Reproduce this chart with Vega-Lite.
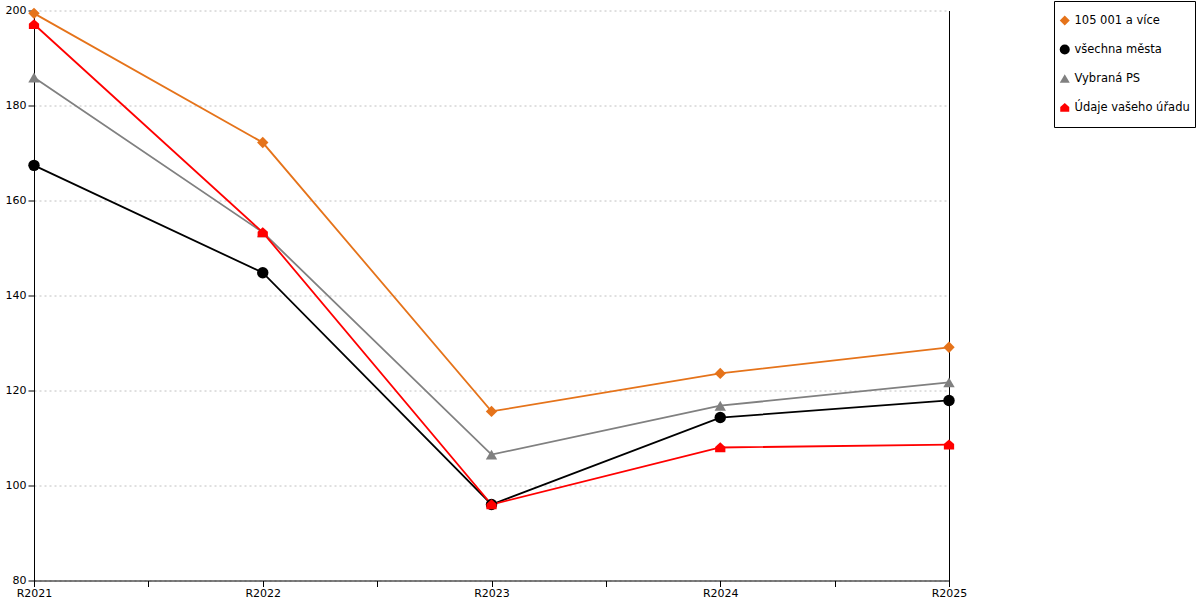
{
  "$schema": "https://vega.github.io/schema/vega-lite/v6.json",
  "width": 915,
  "height": 570,
  "padding": {"left": 5, "top": 0.5, "right": 0, "bottom": 0},
  "background": "white",
  "config": {
    "font": "DejaVu Sans",
    "view": {"stroke": null},
    "axis": {
      "labelFont": "DejaVu Sans",
      "labelFontSize": 11,
      "labelColor": "black",
      "domainColor": "black",
      "tickColor": "black",
      "title": null
    },
    "legend": {
      "title": null,
      "strokeColor": "black",
      "padding": 5,
      "rowPadding": 0,
      "clipHeight": 29,
      "labelFontSize": 11.5,
      "labelFont": "DejaVu Sans",
      "labelColor": "black",
      "symbolSize": 100,
      "symbolOpacity": 1,
      "symbolStrokeWidth": 0,
      "labelOffset": 4
    }
  },
  "data": {
    "values": [
      {"rok": 2021, "skupina": "105 001 a více", "hodnota": 199.4},
      {"rok": 2022, "skupina": "105 001 a více", "hodnota": 172.2},
      {"rok": 2023, "skupina": "105 001 a více", "hodnota": 115.6},
      {"rok": 2024, "skupina": "105 001 a více", "hodnota": 123.6},
      {"rok": 2025, "skupina": "105 001 a více", "hodnota": 129.1},
      {"rok": 2021, "skupina": "všechna města", "hodnota": 167.4},
      {"rok": 2022, "skupina": "všechna města", "hodnota": 144.8},
      {"rok": 2023, "skupina": "všechna města", "hodnota": 96.0},
      {"rok": 2024, "skupina": "všechna města", "hodnota": 114.3},
      {"rok": 2025, "skupina": "všechna města", "hodnota": 117.9},
      {"rok": 2021, "skupina": "Vybraná PS", "hodnota": 185.9},
      {"rok": 2022, "skupina": "Vybraná PS", "hodnota": 153.3},
      {"rok": 2023, "skupina": "Vybraná PS", "hodnota": 106.5},
      {"rok": 2024, "skupina": "Vybraná PS", "hodnota": 116.8},
      {"rok": 2025, "skupina": "Vybraná PS", "hodnota": 121.7},
      {"rok": 2021, "skupina": "Údaje vašeho úřadu", "hodnota": 197.1},
      {"rok": 2022, "skupina": "Údaje vašeho úřadu", "hodnota": 153.3},
      {"rok": 2023, "skupina": "Údaje vašeho úřadu", "hodnota": 96.0},
      {"rok": 2024, "skupina": "Údaje vašeho úřadu", "hodnota": 108.0},
      {"rok": 2025, "skupina": "Údaje vašeho úřadu", "hodnota": 108.6}
    ]
  },
  "encoding": {
    "x": {
      "field": "rok",
      "type": "quantitative",
      "scale": {"domain": [2021, 2025], "nice": false, "zero": false},
      "axis": {
        "values": [2021, 2021.5, 2022, 2022.5, 2023, 2023.5, 2024, 2024.5, 2025],
        "labelExpr": "datum.value % 1 == 0 ? 'R' + datum.value : ''",
        "grid": false,
        "tickSize": 6,
        "labelFlush": false,
        "labelPadding": 1
      }
    },
    "color": {
      "field": "skupina",
      "type": "nominal",
      "scale": {
        "domain": ["105 001 a více", "všechna města", "Vybraná PS", "Údaje vašeho úřadu"],
        "range": ["#E5731A", "#000000", "#808080", "#FF0000"]
      },
      "legend": {"orient": "none", "legendX": 1020, "legendY": -9.5}
    }
  },
  "layer": [
    {
      "mark": {"type": "line", "strokeWidth": 1.8},
      "encoding": {
        "y": {
          "field": "hodnota",
          "type": "quantitative",
          "scale": {"domain": [80, 200], "nice": false, "zero": false},
          "axis": {
            "orient": "left",
            "values": [80, 100, 120, 140, 160, 180, 200],
            "grid": true,
            "gridColor": "#c0c0c0",
            "gridDash": [2, 3],
            "tickSize": 6,
            "labelPadding": 2
          }
        }
      }
    },
    {
      "mark": {"type": "point", "filled": true, "opacity": 1, "size": 130, "strokeWidth": 0},
      "encoding": {
        "y": {
          "field": "hodnota",
          "type": "quantitative",
          "scale": {"domain": [80, 200], "nice": false, "zero": false},
          "axis": {
            "orient": "right",
            "labels": false,
            "ticks": false,
            "grid": false
          }
        },
        "shape": {
          "field": "skupina",
          "type": "nominal",
          "scale": {
            "domain": ["105 001 a více", "všechna města", "Vybraná PS", "Údaje vašeho úřadu"],
            "range": ["diamond", "circle", "triangle-up", "M-0.9,0.85L0.9,0.85L0.9,-0.1L0,-0.9L-0.9,-0.1Z"]
          },
          "legend": {"orient": "none", "legendX": 1020, "legendY": -9.5}
        }
      }
    }
  ],
  "resolve": {"axis": {"y": "independent"}}
}
